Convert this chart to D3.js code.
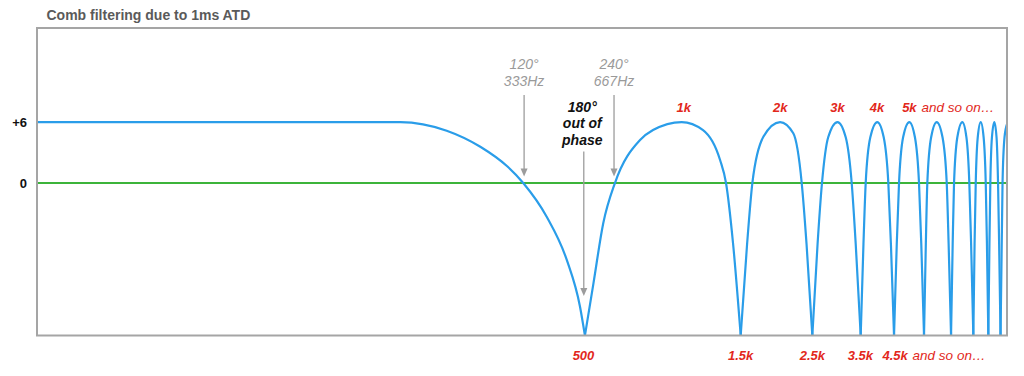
<!DOCTYPE html>
<html><head><meta charset="utf-8">
<script src="https://cdn.jsdelivr.net/npm/d3@7"></script>
<style>
html,body{margin:0;padding:0;background:#fff;}
svg{display:block;font-family:Helvetica,Arial,"Liberation Sans",sans-serif;}
</style></head><body>
<svg id="chart" width="1024" height="376"></svg>
<script>
const title = "Comb filtering due to 1ms ATD";
// Frequency response (Hz, dB)
const freqHz = [10, 133, 185, 235, 284, 319, 377, 435, 478, 495,
  526, 564, 613, 733, 804, 986, 1148, 1296, 1352, 1421, 1501,
  1571, 1631, 1764, 1987, 2183, 2318, 2399, 2500,
  2595, 2678, 2799, 2991, 3171, 3309, 3405, 3528,
  3598, 3656, 3778, 3971, 4156, 4295, 4375, 4473,
  4561, 4635, 4772, 4988, 5191, 5344, 5431, 5538,
  5610, 5670, 5826, 6063, 6318, 6510, 6599, 6713,
  6792, 6858, 7021, 7275, 7491, 7647, 7745, 7868,
  7938, 8004, 8119, 8294, 8467, 8595, 8669, 8755,
  8824, 8881, 8983, 9137, 9282, 9382, 9455, 9550,
  9687, 9824, 10000];
const levelDb = [6, 6, 5.15, 3.57, 1.67, 0, -3.32, -7.57, -12.17, -15,
  -9.87, -3.96, 0, 4.23, 5.21, 6, 5.21, 2.26, 0, -5.9, -15,
  -6, 0, 4.55, 6, 4.89, 0, -6, -15,
  -6, 0, 4.5, 6, 4.5, 0, -6, -15,
  -6, 0, 4.5, 6, 4.5, 0, -6, -15,
  -6, 0, 4.5, 6, 4.5, 0, -6, -15,
  -6, 0, 4.5, 6, 4.5, 0, -6, -15,
  -6, 0, 4.5, 6, 4.5, 0, -6, -15,
  -6, 0, 4.5, 6, 4.5, 0, -6, -15,
  -6, 0, 4.5, 6, 4.5, 0, -6, -15,
  0, 4.5, 5.8];
const yTickValues = [6, 0];
const yTickLabels = ["+6", "0"];
const peakLabels = ["1k", "2k", "3k", "4k", "5k"];
const peakLabelHz = [1000, 1990, 2990, 3965, 4990];
const nullLabels = ["500", "1.5k", "2.5k", "3.5k", "4.5k"];
const nullLabelHz = [490, 1500, 2500, 3520, 4510];
const moreText = "and so on…";
const annoHz = [321, 609, 491];
const annoText = [["120°", "333Hz"], ["240°", "667Hz"], ["180°", "out of", "phase"]];

const svg = d3.select("#chart");
const x = d3.scaleLog().domain([10, 10000]).range([37, 1007]);
const y = d3.scaleLinear().domain([-15, 15.25]).range([335.5, 28]);

const RED = "#e2281c", BLUE = "#2a9de9", GREEN = "#3cb43a", GRAY = "#9a9a9a";

svg.append("defs").append("clipPath").attr("id", "plotclip")
  .append("rect").attr("x", x(10)).attr("y", y(15.25))
  .attr("width", x(10000) - x(10)).attr("height", y(-15) - y(15.25));

// title
svg.append("text").attr("x", 46.5).attr("y", 20)
  .attr("font-size", 14).attr("font-weight", "bold").attr("fill", "#5a5a5a")
  .text(title);

// zero line
svg.append("line").attr("x1", x(10)).attr("x2", x(10000))
  .attr("y1", y(0)).attr("y2", y(0))
  .attr("stroke", GREEN).attr("stroke-width", 2);

// curve split into lobes at nulls
const pts = freqHz.map((f, i) => [f, levelDb[i]]);
const segs = [];
let cur = [];
pts.forEach(p => {
  cur.push(p);
  if (p[1] <= -15 && cur.length > 1) { segs.push(cur); cur = [p]; }
});
if (cur.length > 1) segs.push(cur);
const line = d3.line().x(d => x(d[0])).y(d => y(d[1])).curve(d3.curveMonotoneX);
svg.append("g").attr("clip-path", "url(#plotclip)")
  .selectAll("path").data(segs).join("path")
  .attr("d", line).attr("fill", "none")
  .attr("stroke", BLUE).attr("stroke-width", 2.2)
  .attr("stroke-linejoin", "round");

// frame
svg.append("rect").attr("x", x(10)).attr("y", y(15.25))
  .attr("width", x(10000) - x(10)).attr("height", y(-15) - y(15.25))
  .attr("fill", "none").attr("stroke", "#a5a5a5").attr("stroke-width", 2);

// y labels
svg.selectAll(".ylab").data(yTickValues).join("text")
  .attr("x", 27).attr("y", d => y(d) + 4.5)
  .attr("text-anchor", "end").attr("font-size", 13).attr("font-weight", "bold")
  .attr("fill", "#111").text((d, i) => yTickLabels[i]);

function redLabels(labels, hz, baseline) {
  let last = null;
  labels.forEach((t, i) => {
    last = svg.append("text").attr("x", x(hz[i])).attr("y", baseline)
      .attr("text-anchor", "middle").attr("font-size", 13)
      .attr("font-weight", "bold").attr("font-style", "italic")
      .attr("fill", RED).text(t);
  });
  const bb = last.node().getBBox();
  svg.append("text").attr("x", bb.x + bb.width + 4).attr("y", baseline)
    .attr("font-size", 13.5).attr("font-style", "italic")
    .attr("fill", RED).text(moreText);
}
redLabels(peakLabels, peakLabelHz, 111.5);
redLabels(nullLabels, nullLabelHz, 360);

// annotations with arrows
const annoStyle = [
  {color: GRAY, weight: "500", base: [69, 86], top: 95, tip: 176.5},
  {color: GRAY, weight: "500", base: [69, 86], top: 95, tip: 176.5},
  {color: "#111", weight: "bold", base: [111.5, 128, 144.5], top: 151.5, tip: 296}
];
annoHz.forEach((f, i) => {
  const s = annoStyle[i];
  const cx = x(f);
  annoText[i].forEach((t, j) => {
    svg.append("text").attr("x", i === 2 ? cx - 1.5 : cx).attr("y", s.base[j])
      .attr("text-anchor", "middle").attr("font-size", 14)
      .attr("font-weight", s.weight).attr("font-style", "italic")
      .attr("fill", s.color).text(t);
  });
  svg.append("line").attr("x1", cx).attr("x2", cx)
    .attr("y1", s.top).attr("y2", s.tip - 6)
    .attr("stroke", "#9c9c9c").attr("stroke-width", 1.3);
  svg.append("path")
    .attr("d", `M${cx - 3.5},${s.tip - 8} L${cx + 3.5},${s.tip - 8} L${cx},${s.tip} Z`)
    .attr("fill", "#9c9c9c");
});
</script>
</body></html>
